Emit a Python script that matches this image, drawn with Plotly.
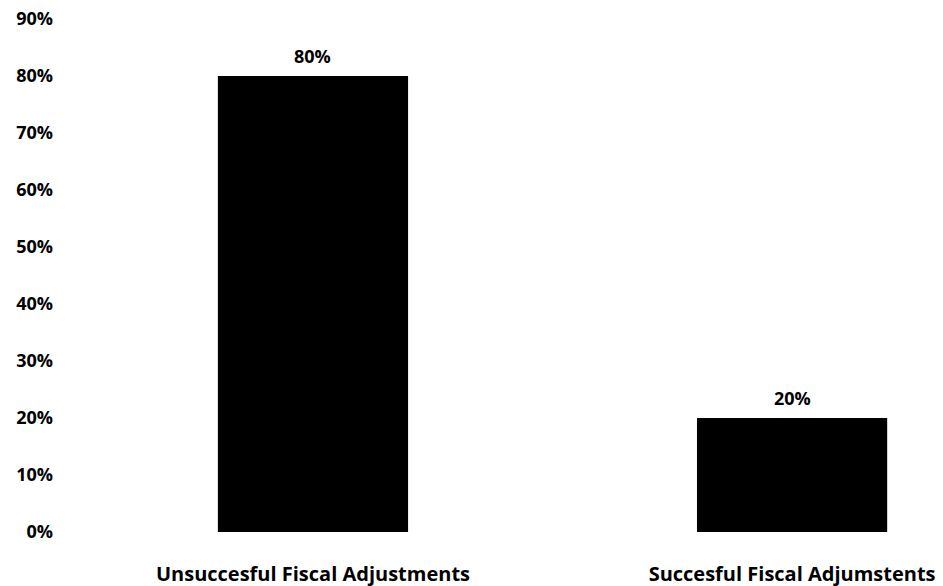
import plotly.graph_objects as go

categories = ["Unsuccesful Fiscal Adjustments", "Succesful Fiscal Adjumstents"]
values = [80, 20]
value_labels = ["80%", "20%"]
tick_vals = [0, 10, 20, 30, 40, 50, 60, 70, 80, 90]
tick_text = ["0%", "10%", "20%", "30%", "40%", "50%", "60%", "70%", "80%", "90%"]

FONT = "Open Sans"

fig = go.Figure()
fig.add_trace(go.Bar(
    x=categories, y=values,
    marker=dict(color="black", line=dict(width=0)),
    width=0.397,
))

for c, v, t in zip(categories, values, value_labels):
    fig.add_annotation(x=c, y=v, text=t, showarrow=False, yanchor="bottom",
                       yshift=6, font=dict(family=FONT, size=18, color="black", weight="bold"))

fig.update_layout(
    width=943, height=586,
    margin=dict(l=60, r=0, t=19, b=54),
    plot_bgcolor="white", paper_bgcolor="white",
    showlegend=False,
    font=dict(family=FONT, color="black"),
    xaxis=dict(range=[-0.528, 1.315], showgrid=False, showline=False, zeroline=False,
               ticks="", ticklabelstandoff=28,
               tickfont=dict(family=FONT, size=20, color="black", weight="bold")),
    yaxis=dict(range=[0, 90], tickvals=tick_vals, ticktext=tick_text,
               showgrid=False, showline=False, zeroline=False, ticks="",
               ticklabelstandoff=6,
               tickfont=dict(family=FONT, size=18, color="black", weight="bold")),
)

fig.write_html("out.html")
